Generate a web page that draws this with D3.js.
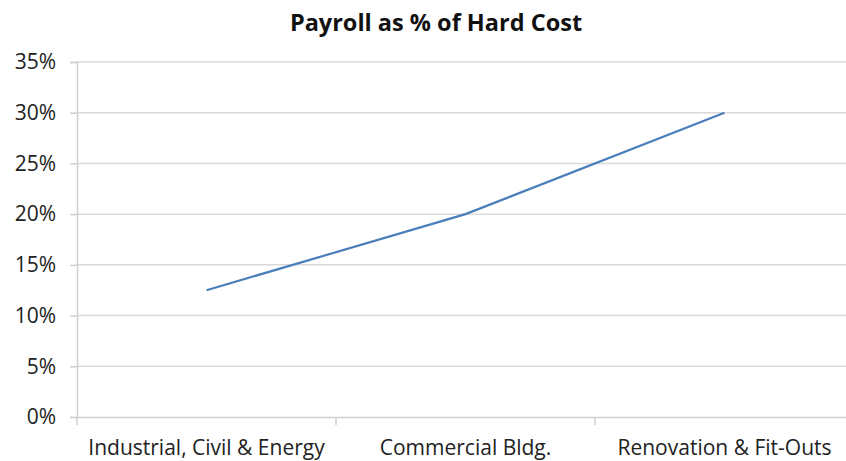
<!DOCTYPE html>
<html><head><meta charset="utf-8">
<script src="https://cdn.jsdelivr.net/npm/d3@7"></script>
<style>body{margin:0;background:#fff;}svg{display:block;}</style>
</head><body><svg id="c" width="846" height="461"></svg>
<script>
const title = "Payroll as % of Hard Cost";
const categories = ["Industrial, Civil & Energy", "Commercial Bldg.", "Renovation & Fit-Outs"];
const values = [0.125, 0.20, 0.30];
const yTicks = [0, 0.05, 0.10, 0.15, 0.20, 0.25, 0.30, 0.35];

const svg = d3.select("#c");
const font = "'Open Sans', sans-serif";
const m = {left: 77, right: 854, top: 62, bottom: 417};
const x = d3.scaleBand().domain(categories).range([m.left, m.right]);
const y = d3.scaleLinear().domain([0, 0.35]).range([m.bottom, m.top]);

// gridlines
svg.append("g").selectAll("line").data(yTicks.slice(1)).join("line")
  .attr("x1", m.left).attr("x2", m.right)
  .attr("y1", d => y(d)).attr("y2", d => y(d))
  .attr("stroke", "#d9d9d9").attr("stroke-width", 1.5);

// y axis
const ya = svg.append("g").attr("transform", `translate(${m.left},0)`)
  .call(d3.axisLeft(y).tickValues(yTicks).tickFormat(d3.format(".0%")).tickSize(7).tickPadding(14));
ya.select(".domain").attr("stroke", "#d0d0d0").attr("stroke-width", 1.5);
ya.selectAll(".tick line").attr("stroke", "#d0d0d0").attr("stroke-width", 1.5);
ya.selectAll("text").attr("font-family", font).attr("font-size", 21).attr("fill", "#222");

// x axis
const xa = svg.append("g").attr("transform", `translate(0,${m.bottom})`)
  .call(d3.axisBottom(x).tickSize(0).tickPadding(23));
xa.select(".domain").attr("stroke", "#d0d0d0").attr("stroke-width", 1.5);
xa.selectAll("text").attr("font-family", font).attr("font-size", 21).attr("fill", "#222");
// boundary ticks
const bounds = categories.map(c => x(c)).concat([m.right]);
xa.append("g").selectAll("line").data(bounds).join("line")
  .attr("x1", d => d).attr("x2", d => d).attr("y1", 0).attr("y2", 8)
  .attr("stroke", "#d0d0d0").attr("stroke-width", 1.5);

// line
const line = d3.line().x((d, i) => x(categories[i]) + x.bandwidth() / 2).y(d => y(d));
svg.append("path").datum(values).attr("d", line)
  .attr("fill", "none").attr("stroke", "#4a7ebb").attr("stroke-width", 2.2);

// title
svg.append("text").attr("x", 436).attr("y", 31).attr("text-anchor", "middle")
  .attr("font-family", font).attr("font-weight", "bold").attr("font-size", 23.5).attr("fill", "#111")
  .text(title);
</script></body></html>
